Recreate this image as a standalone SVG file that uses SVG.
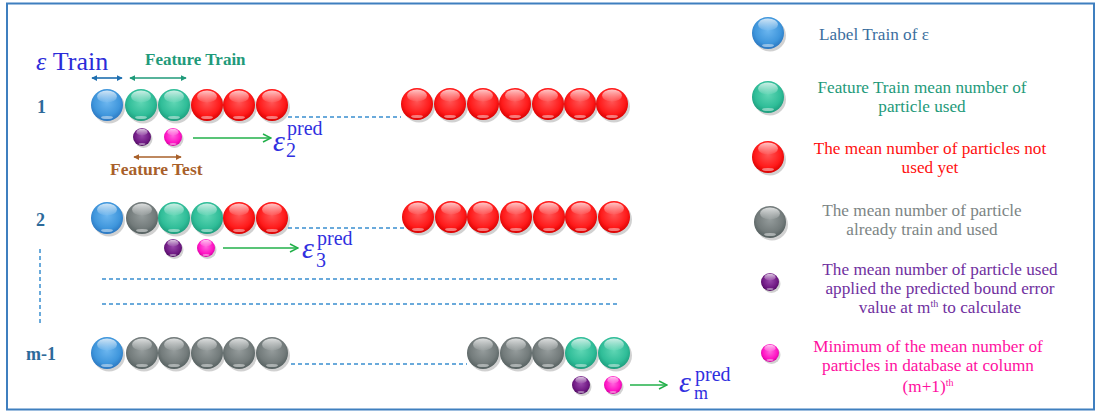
<svg xmlns="http://www.w3.org/2000/svg" xmlns:xlink="http://www.w3.org/1999/xlink" width="1098" height="412" viewBox="0 0 1098 412">
<style>
.serif{font-family:"Liberation Serif","Times New Roman",serif}
.num{font-family:"Liberation Serif",serif;font-weight:bold;font-size:18px;fill:#2d6a9a}
.leg{font-family:"Liberation Serif",serif;font-size:17.2px;text-anchor:middle}
.dash{stroke:#3a8fd0;stroke-width:1.5;stroke-dasharray:4 3;fill:none}
.garrow{stroke:#22b04a;stroke-width:1.6;fill:none}
.eps{font-family:"Liberation Serif",serif;fill:#3030e0}
</style>
<defs>
<radialGradient id="gBlue" cx="50%" cy="42%" r="58%"><stop offset="0" stop-color="#6cb6ef"/><stop offset="0.7" stop-color="#3f96dc"/><stop offset="1" stop-color="#2a76c0"/></radialGradient>
<radialGradient id="gTeal" cx="50%" cy="42%" r="58%"><stop offset="0" stop-color="#5fd6b4"/><stop offset="0.7" stop-color="#2fbd98"/><stop offset="1" stop-color="#1c9c7c"/></radialGradient>
<radialGradient id="gRed" cx="50%" cy="42%" r="58%"><stop offset="0" stop-color="#ff5555"/><stop offset="0.7" stop-color="#ff1a1a"/><stop offset="1" stop-color="#d80000"/></radialGradient>
<radialGradient id="gGray" cx="50%" cy="42%" r="58%"><stop offset="0" stop-color="#959c9c"/><stop offset="0.7" stop-color="#737b7b"/><stop offset="1" stop-color="#556060"/></radialGradient>
<radialGradient id="gPurple" cx="50%" cy="42%" r="58%"><stop offset="0" stop-color="#9a4aac"/><stop offset="0.7" stop-color="#701a84"/><stop offset="1" stop-color="#4f0c60"/></radialGradient>
<radialGradient id="gMag" cx="50%" cy="42%" r="58%"><stop offset="0" stop-color="#ff66dd"/><stop offset="0.7" stop-color="#ff14c4"/><stop offset="1" stop-color="#d400a0"/></radialGradient>
<linearGradient id="hl" x1="0" y1="0" x2="0" y2="1"><stop offset="0" stop-color="#fff" stop-opacity="0.75"/><stop offset="1" stop-color="#fff" stop-opacity="0.05"/></linearGradient>
<g id="ball">
<circle cx="2" cy="2.5" r="16" fill="#000" fill-opacity="0.18"/>
<circle r="16"/>
<ellipse cx="0" cy="-8.5" rx="10" ry="6" fill="url(#hl)"/>
<ellipse cx="0" cy="12.5" rx="6" ry="1.6" fill="#fff" fill-opacity="0.45"/>
</g>
<g id="sball">
<circle cx="1.5" cy="2" r="9" fill="#000" fill-opacity="0.18"/>
<circle r="9"/>
<ellipse cx="0" cy="-4.8" rx="5.6" ry="3.4" fill="url(#hl)"/>
<ellipse cx="0" cy="7" rx="3.5" ry="1" fill="#fff" fill-opacity="0.45"/>
</g>
<marker id="mBlue" viewBox="0 0 8 8" refX="7" refY="4" markerWidth="6" markerHeight="6" markerUnits="userSpaceOnUse" orient="auto-start-reverse"><path d="M0,0 L8,4 L0,8 Z" fill="#1f6fb0"/></marker>
<marker id="mTeal" viewBox="0 0 8 8" refX="7" refY="4" markerWidth="6" markerHeight="6" markerUnits="userSpaceOnUse" orient="auto-start-reverse"><path d="M0,0 L8,4 L0,8 Z" fill="#1f9a7a"/></marker>
<marker id="mBrown" viewBox="0 0 8 8" refX="7" refY="4" markerWidth="6" markerHeight="6" markerUnits="userSpaceOnUse" orient="auto-start-reverse"><path d="M0,0 L8,4 L0,8 Z" fill="#a8602a"/></marker>
<marker id="mGreen" viewBox="0 0 10 10" refX="9" refY="5" markerWidth="10" markerHeight="10" markerUnits="userSpaceOnUse" orient="auto"><path d="M1,1 L9,5 L1,9" fill="none" stroke="#22b04a" stroke-width="1.5"/></marker>
</defs>
<rect x="0" y="0" width="1098" height="412" fill="#fff"/>
<rect x="7" y="3.5" width="1087" height="406" fill="none" stroke="#3f7fbf" stroke-width="2"/>

<g id="header">
<text x="36" y="70" class="serif" font-size="26" fill="#2b2bd9"><tspan font-style="italic">ε</tspan> Train</text>
<text x="145" y="65" class="serif" font-size="17" font-weight="bold" fill="#1f9a7a">Feature Train</text>
<text x="110" y="175" class="serif" font-size="17.5" font-weight="bold" fill="#a8602a">Feature Test</text>
</g>

<g id="connectors">
<line x1="92" y1="78" x2="122" y2="78" stroke="#1f6fb0" stroke-width="1.6" marker-start="url(#mBlue)" marker-end="url(#mBlue)"/>
<line x1="130" y1="78" x2="186" y2="78" stroke="#1f9a7a" stroke-width="1.6" marker-start="url(#mTeal)" marker-end="url(#mTeal)"/>
<line x1="134" y1="157" x2="181" y2="157" stroke="#a8602a" stroke-width="1.6" marker-start="url(#mBrown)" marker-end="url(#mBrown)"/>
<line x1="193" y1="138" x2="271" y2="138" class="garrow" marker-end="url(#mGreen)"/>
<line x1="223" y1="248" x2="298" y2="248" class="garrow" marker-end="url(#mGreen)"/>
<line x1="630" y1="385" x2="667" y2="385" class="garrow" marker-end="url(#mGreen)"/>
<line x1="288" y1="117" x2="401" y2="117" class="dash"/>
<line x1="288" y1="228" x2="404" y2="228" class="dash"/>
<line x1="291" y1="364" x2="467" y2="364" class="dash"/>
<line x1="102" y1="279" x2="620" y2="279" class="dash"/>
<line x1="102" y1="304" x2="620" y2="304" class="dash"/>
<line x1="40" y1="249" x2="40" y2="325" class="dash"/>
</g>

<g id="row1">
<text x="37" y="113" class="num">1</text>
<use href="#ball" x="107" y="105" fill="url(#gBlue)"/>
<use href="#ball" x="141" y="105" fill="url(#gTeal)"/>
<use href="#ball" x="174" y="105" fill="url(#gTeal)"/>
<use href="#ball" x="207" y="105" fill="url(#gRed)"/>
<use href="#ball" x="239" y="105" fill="url(#gRed)"/>
<use href="#ball" x="272" y="105" fill="url(#gRed)"/>
<use href="#ball" x="417" y="104" fill="url(#gRed)"/>
<use href="#ball" x="450" y="104" fill="url(#gRed)"/>
<use href="#ball" x="483" y="104" fill="url(#gRed)"/>
<use href="#ball" x="515" y="104" fill="url(#gRed)"/>
<use href="#ball" x="548" y="104" fill="url(#gRed)"/>
<use href="#ball" x="580" y="104" fill="url(#gRed)"/>
<use href="#ball" x="612" y="104" fill="url(#gRed)"/>
<use href="#sball" x="142" y="137" fill="url(#gPurple)"/>
<use href="#sball" x="173" y="137" fill="url(#gMag)"/>
<text x="273" y="151" class="eps" font-size="30" font-style="italic">ε</text>
<text x="287" y="135" class="eps" font-size="20">pred</text>
<text x="286" y="157" class="eps" font-size="20">2</text>
</g>

<g id="row2">
<text x="36" y="226" class="num">2</text>
<use href="#ball" x="107" y="218" fill="url(#gBlue)"/>
<use href="#ball" x="142" y="218" fill="url(#gGray)"/>
<use href="#ball" x="174" y="218" fill="url(#gTeal)"/>
<use href="#ball" x="207" y="218" fill="url(#gTeal)"/>
<use href="#ball" x="239" y="218" fill="url(#gRed)"/>
<use href="#ball" x="272" y="218" fill="url(#gRed)"/>
<use href="#ball" x="418" y="217" fill="url(#gRed)"/>
<use href="#ball" x="451" y="217" fill="url(#gRed)"/>
<use href="#ball" x="483" y="217" fill="url(#gRed)"/>
<use href="#ball" x="516" y="217" fill="url(#gRed)"/>
<use href="#ball" x="549" y="217" fill="url(#gRed)"/>
<use href="#ball" x="581" y="217" fill="url(#gRed)"/>
<use href="#ball" x="614" y="217" fill="url(#gRed)"/>
<use href="#sball" x="173" y="248" fill="url(#gPurple)"/>
<use href="#sball" x="206" y="248" fill="url(#gMag)"/>
<text x="302" y="258" class="eps" font-size="30" font-style="italic">ε</text>
<text x="317" y="245" class="eps" font-size="20">pred</text>
<text x="316" y="267" class="eps" font-size="20">3</text>
</g>

<g id="rowm1">
<text x="26" y="360" class="num">m-1</text>
<use href="#ball" x="107" y="353" fill="url(#gBlue)"/>
<use href="#ball" x="142" y="353" fill="url(#gGray)"/>
<use href="#ball" x="174" y="353" fill="url(#gGray)"/>
<use href="#ball" x="207" y="353" fill="url(#gGray)"/>
<use href="#ball" x="239" y="353" fill="url(#gGray)"/>
<use href="#ball" x="272" y="353" fill="url(#gGray)"/>
<use href="#ball" x="483" y="353" fill="url(#gGray)"/>
<use href="#ball" x="516" y="353" fill="url(#gGray)"/>
<use href="#ball" x="548" y="353" fill="url(#gGray)"/>
<use href="#ball" x="581" y="353" fill="url(#gTeal)"/>
<use href="#ball" x="614" y="353" fill="url(#gTeal)"/>
<use href="#sball" x="581" y="385" fill="url(#gPurple)"/>
<use href="#sball" x="613" y="385" fill="url(#gMag)"/>
<text x="679" y="392" class="eps" font-size="30" font-style="italic">ε</text>
<text x="695" y="381" class="eps" font-size="20">pred</text>
<text x="694" y="399" class="eps" font-size="18">m</text>
</g>

<g id="legend-blue">
<use href="#ball" x="768" y="33" fill="url(#gBlue)"/>
<text x="874" y="40" class="leg" fill="#3b6e9e">Label Train of ε</text>
</g>
<g id="legend-teal">
<use href="#ball" x="768" y="97" fill="url(#gTeal)"/>
<text class="leg" fill="#1e9a7a"><tspan x="922" y="93">Feature Train mean number of</tspan><tspan x="922" y="112">particle used</tspan></text>
</g>
<g id="legend-red">
<use href="#ball" x="768" y="157" fill="url(#gRed)"/>
<text class="leg" fill="#ff1010"><tspan x="930" y="154">The mean number of particles not</tspan><tspan x="930" y="173">used yet</tspan></text>
</g>
<g id="legend-gray">
<use href="#ball" x="770" y="222" fill="url(#gGray)"/>
<text class="leg" fill="#7d8585"><tspan x="922" y="216">The mean number of particle</tspan><tspan x="922" y="235">already train and used</tspan></text>
</g>
<g id="legend-purple">
<use href="#sball" x="770" y="282" fill="url(#gPurple)"/>
<text class="leg" fill="#7030a0"><tspan x="940" y="275">The mean number of particle used</tspan><tspan x="940" y="294">applied the predicted bound error</tspan><tspan x="940" y="313">value  at m<tspan font-size="10" dy="-6">th</tspan><tspan dy="6"> to calculate</tspan></tspan></text>
</g>
<g id="legend-magenta">
<use href="#sball" x="770" y="353" fill="url(#gMag)"/>
<text class="leg" fill="#ff10a0"><tspan x="928" y="352">Minimum of the mean number of</tspan><tspan x="928" y="371">particles in database at column</tspan><tspan x="928" y="392">(m+1)<tspan font-size="10" dy="-6">th</tspan></tspan></text>
</g>
</svg>
